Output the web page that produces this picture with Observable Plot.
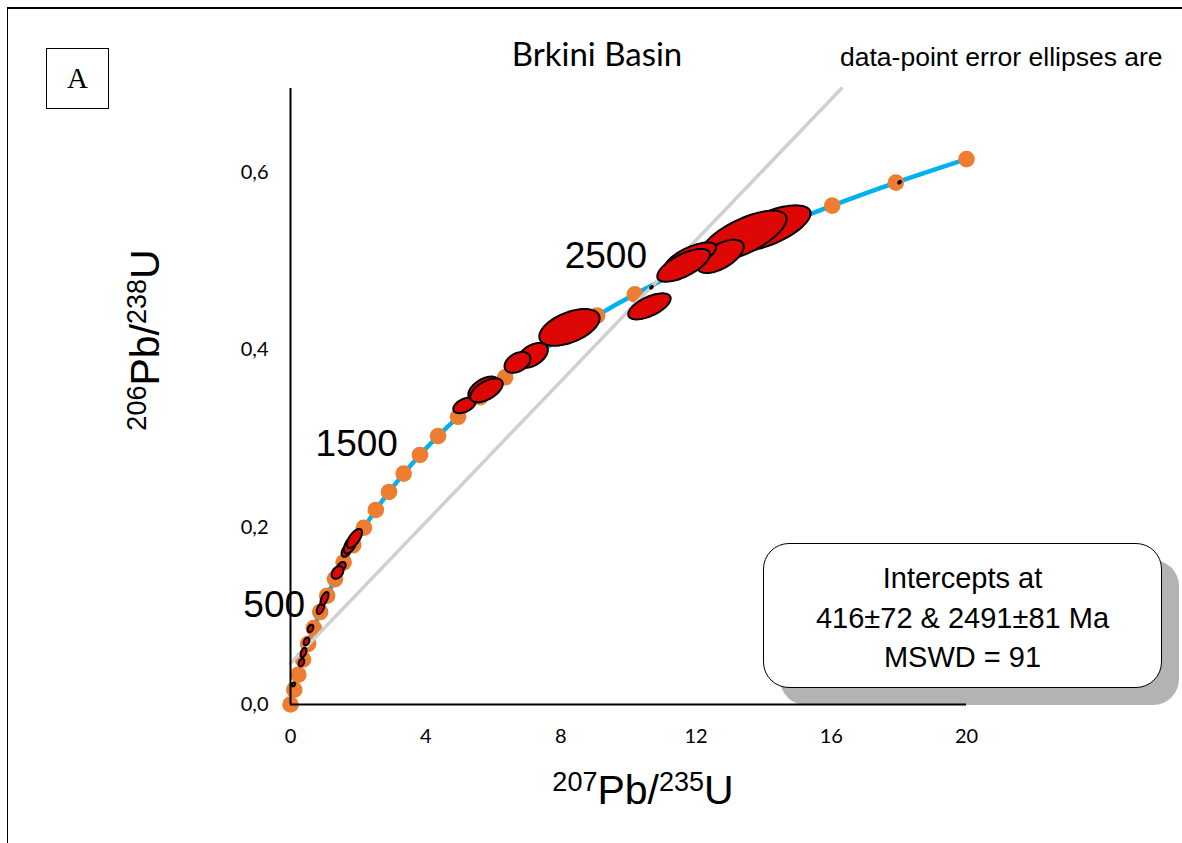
<!DOCTYPE html>
<html><head><meta charset="utf-8">
<script src="https://cdn.jsdelivr.net/npm/d3@7"></script>
<script src="https://cdn.jsdelivr.net/npm/@observablehq/plot@0.6"></script>
<style>
html,body{margin:0;padding:0;background:#fff;}
#wrap{position:relative;width:1182px;height:843px;overflow:hidden;background:#fff;}
#frame{position:absolute;left:7px;top:7px;width:1300px;height:1000px;border-top:2.5px solid #000;border-left:1.5px solid #000;}
#boxA{position:absolute;left:46px;top:48px;width:61px;height:59px;border:1px solid #000;font:29px "Liberation Serif","Times New Roman",serif;text-align:center;line-height:59px;z-index:2;}
.lbl{position:absolute;white-space:nowrap;z-index:2;color:#000;}
#title{left:597px;top:53px;transform:translate(-50%,-50%);font:33px Lato,"Open Sans",sans-serif;}
#note{left:840px;top:57px;transform:translateY(-50%);font:26.5px "Liberation Sans",Arial,sans-serif;}
#ylab{left:145px;top:340px;transform:translate(-50%,-50%) rotate(-90deg);font:41px "Liberation Sans",Arial,sans-serif;}
#xlab{left:643px;top:790px;transform:translate(-50%,-50%);font:41px "Liberation Sans",Arial,sans-serif;}
.sup{font-size:27px;position:relative;top:-13px;}
#info{position:absolute;left:763px;top:543px;width:399px;height:145px;box-sizing:border-box;border:1px solid #000;border-radius:26px;box-shadow:17px 17px 0 #b3b3b3;background:#fff;text-align:center;font:29px "Liberation Sans",Arial,sans-serif;line-height:39.5px;padding-top:15px;z-index:0;}
#chart{position:absolute;left:0;top:0;z-index:1;}
</style></head><body>
<div id="wrap">
  <div id="frame"></div>
  <div id="info">Intercepts at<br>416±72 &amp; 2491±81 Ma<br>MSWD = 91</div>
  <div id="chart"></div>
  <div id="boxA">A</div>
  <div class="lbl" id="title">Brkini Basin</div>
  <div class="lbl" id="note">data-point error ellipses are</div>
  <div class="lbl" id="ylab"><span class="sup">206</span>Pb/<span class="sup">238</span>U</div>
  <div class="lbl" id="xlab"><span class="sup">207</span>Pb/<span class="sup">235</span>U</div>
</div>
<script>
// Concordia points (207Pb/235U, 206Pb/238U)
const concX = [0, 0.1107, 0.2336, 0.3702, 0.5219, 0.6903, 0.8775, 1.0853, 1.3161, 1.5725,
  1.8572, 2.1734, 2.5246, 2.9148, 3.3484, 3.8302, 4.3647, 4.9582, 5.6174, 6.3500,
  7.1636, 8.0677, 9.0718, 10.1868, 11.4253, 12.8008, 14.3289, 16.0254, 17.9101, 20.0];
const concY = [0, 0.01667, 0.03363, 0.05086, 0.06838, 0.08620, 0.10431, 0.12272, 0.14144, 0.16047,
  0.17982, 0.19948, 0.21951, 0.23981, 0.26050, 0.28153, 0.30290, 0.32461, 0.34668, 0.36916,
  0.39198, 0.41521, 0.43880, 0.46276, 0.48716, 0.51196, 0.53716, 0.56280, 0.58884, 0.61534];

// Age labels on concordia
const ageLabels = ["500", "1500", "2500"];
const ageLabelX = [0.6386, 3.3855, 10.754];
const ageLabelY = [0.0806, 0.2623, 0.4737];

// Discordia (regression) line end points
const discX = [0, 16.3];
const discY = [0.0464, 0.695];

// Error ellipses: centre, half-widths (sx, sy) and correlation rho
const ellCx  = [0.089, 0.325, 0.385, 0.473, 0.592, 0.888, 1.006, 1.509, 1.391, 1.657, 1.775, 1.893,
  5.148, 5.710, 5.799, 7.160, 6.716, 8.254, 10.68, 14.14, 13.40, 12.72, 11.83, 11.63, 10.62, 18.02];
const ellCy  = [0.0226, 0.0474, 0.0587, 0.0711, 0.0858, 0.1084, 0.1196, 0.1558, 0.1490, 0.1738, 0.1806, 0.1874,
  0.3375, 0.3567, 0.3544, 0.3939, 0.3860, 0.4255, 0.4707, 0.5372, 0.5282, 0.5056, 0.5045, 0.4955, 0.4492, 0.5892];
const ellSx  = [0.05, 0.084, 0.086, 0.084, 0.084, 0.110, 0.119, 0.124, 0.175, 0.146, 0.196, 0.223,
  0.332, 0.449, 0.480, 0.454, 0.383, 0.893, 0.04, 1.247, 1.278, 0.689, 0.761, 0.779, 0.628, 0.04];
const ellSy  = [0.0022, 0.0043, 0.0053, 0.0043, 0.0043, 0.0063, 0.0073, 0.0050, 0.0071, 0.0072, 0.0102, 0.0107,
  0.0088, 0.0133, 0.0134, 0.0140, 0.0118, 0.0207, 0.0015, 0.0260, 0.0290, 0.0188, 0.0168, 0.0185, 0.0147, 0.0015];
const ellRho = [0.30, 0.35, 0.45, 0.35, 0.35, 0.50, 0.59, 0.34, 0.32, 0.46, 0.55, 0.63,
  0.45, 0.52, 0.55, 0.45, 0.37, 0.50, 0.50, 0.65, 0.68, 0.59, 0.68, 0.67, 0.61, 0.50];

const xTicks = [0, 4, 8, 12, 16, 20];
const yTicks = [0, 0.2, 0.4, 0.6];

const conc = concX.map((x, i) => ({x, y: concY[i]}));
const disc = discX.map((x, i) => ({x, y: discY[i]}));
const labels = ageLabels.map((t, i) => ({t, x: ageLabelX[i], y: ageLabelY[i]}));
const ellPts = [];
ellCx.forEach((cx, i) => {
  const sx = ellSx[i], sy = ellSy[i], r = ellRho[i], q = Math.sqrt(1 - r * r);
  for (let k = 0; k <= 72; k++) {
    const t = 2 * Math.PI * k / 72;
    ellPts.push({id: i, x: cx + sx * Math.cos(t), y: ellCy[i] + sy * (r * Math.cos(t) + q * Math.sin(t))});
  }
});

const chart = Plot.plot({
  width: 1182, height: 843,
  marginLeft: 290, marginRight: 216, marginTop: 88, marginBottom: 139,
  x: {domain: [0, 20]},
  y: {domain: [0, 0.695]},
  style: {background: "transparent", fontFamily: "Lato, 'Open Sans', sans-serif", color: "#000"},
  marks: [
    Plot.axisX({ticks: xTicks, tickSize: 0, tickPadding: 24, fontSize: 20, label: null}),
    Plot.axisY({ticks: yTicks, tickSize: 0, tickPadding: 22, fontSize: 20, label: null,
      tickFormat: d => d.toFixed(1).replace(".", ",")}),
    Plot.line(conc, {x: "x", y: "y", stroke: "#00B0F0", strokeWidth: 4.5, curve: "catmull-rom"}),
    Plot.dot(conc, {x: "x", y: "y", r: 8.3, fill: "#ED7D31", stroke: "none"}),
    Plot.line(disc, {x: "x", y: "y", stroke: "#d0d0d0", strokeWidth: 3.5}),
    Plot.line(ellPts, {x: "x", y: "y", z: "id", fill: "#dd0805", stroke: "#000", strokeWidth: 2, strokeLinejoin: "round"}),
    Plot.ruleX([0], {y1: 0, y2: 0.695, stroke: "#000", strokeWidth: 2}),
    Plot.ruleY([0], {x1: 0, x2: 20, stroke: "#000", strokeWidth: 2}),
    Plot.text(labels, {x: "x", y: "y", text: "t", textAnchor: "end", dx: -7, dy: -28,
      fontSize: 37, fontFamily: "'Liberation Sans', Arial, sans-serif", fill: "#000"})
  ]
});
document.getElementById("chart").appendChild(chart);
</script>
</body></html>
